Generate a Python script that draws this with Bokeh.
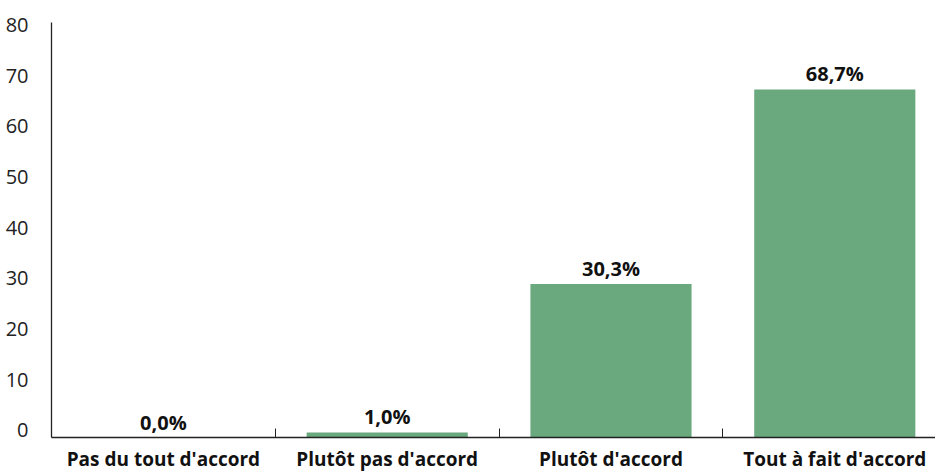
from bokeh.plotting import figure
from bokeh.models import Range1d, FixedTicker, ColumnDataSource, LinearAxis
from bokeh.core.properties import value
from bokeh.embed import file_html
from bokeh.resources import INLINE

# Survey answers and their shares (%)
categories = ["Pas du tout d'accord", "Plutôt pas d'accord", "Plutôt d'accord", "Tout à fait d'accord"]
shares = [0.0, 1.0, 30.3, 68.7]
y_ticks = [0, 10, 20, 30, 40, 50, 60, 70, 80]

BAR_COLOR = "#6aa87e"
AXIS_COLOR = "#222222"
FONT = "Open Sans"

Y_TOP = 81.9
# tick numbers sit on their baseline, slightly above the value they mark
LABEL_LIFT = 1.4

centers = [i + 0.5 for i in range(len(categories))]
labels = [f"{v:.1f}%".replace(".", ",") for v in shares]
src = ColumnDataSource(dict(x=centers, top=shares, label=labels))

p = figure(
    width=935, height=474,
    x_range=Range1d(0, 3.95), y_range=Range1d(0, Y_TOP),
    y_axis_location=None,
    output_backend="svg", toolbar_location=None,
    min_border_left=51, min_border_right=0, min_border_top=22, min_border_bottom=36,
)
p.outline_line_color = None
p.xgrid.visible = False
p.ygrid.visible = False
p.background_fill_color = "white"
p.border_fill_color = "white"

p.vbar(x="x", top="top", width=0.72, bottom=0, source=src,
       fill_color=BAR_COLOR, line_color=None)

p.text(x="x", y="top", text="label", source=src,
       text_font=value(FONT), text_font_style="bold", text_font_size="20px",
       text_align="center", text_baseline="bottom", y_offset=-2,
       text_color="#111111")

# y axis: plain line, labels only
p.extra_y_ranges = {"ticks": Range1d(-LABEL_LIFT, Y_TOP - LABEL_LIFT)}
ya = LinearAxis(y_range_name="ticks", ticker=FixedTicker(ticks=y_ticks))
ya.axis_line_color = AXIS_COLOR
ya.axis_line_width = 1.3
ya.major_tick_line_color = None
ya.minor_tick_line_color = None
ya.major_label_standoff = 17
ya.major_label_text_font = FONT
ya.major_label_text_font_size = "20px"
ya.major_label_text_color = AXIS_COLOR
p.add_layout(ya, "left")

# x axis: category names centred, small inward ticks at the boundaries
xa = p.xaxis[0]
xa.ticker = FixedTicker(ticks=centers, minor_ticks=[1, 2, 3])
xa.major_label_overrides = {c: name for c, name in zip(centers, categories)}
xa.axis_line_color = AXIS_COLOR
xa.axis_line_width = 1.3
xa.major_tick_line_color = None
xa.minor_tick_line_color = AXIS_COLOR
xa.minor_tick_in = 9
xa.minor_tick_out = 0
xa.major_label_standoff = 2
xa.major_label_text_font = FONT
xa.major_label_text_font_style = "bold"
xa.major_label_text_font_size = "19px"
xa.major_label_text_color = "#111111"

open("out.html", "w").write(file_html(p, INLINE))
